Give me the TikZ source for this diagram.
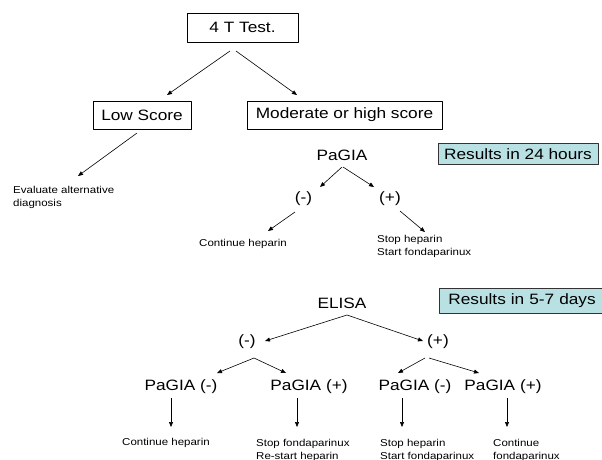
\documentclass[tikz,border=0pt]{standalone}
\usepackage{fontspec}
\setmainfont{Liberation Sans}
\newfontfamily\widesans{Liberation Sans}[FakeStretch=1.15]
\usepackage{xcolor}
\usetikzlibrary{arrows.meta}
\definecolor{resfill}{RGB}{185,225,228}

\begin{document}
\begin{tikzpicture}[x=1pt,y=-1pt,>={Triangle[length=5pt,width=4pt]},line join=round,
  big/.style={font=\widesans\fontsize{15}{18}\selectfont,inner sep=0pt},
  small/.style={font=\widesans\fontsize{10}{12.5}\selectfont,inner sep=0pt,align=left},
  box/.style={big,draw,line width=0.8pt},
  res/.style={big,draw=black!80,fill=resfill,line width=0.8pt},
  arr/.style={->,line width=0.6pt}]
  \useasboundingbox (0,0) rectangle (602,459);
  % top part
  \node[box,minimum width=111pt,minimum height=29pt] (test) at (242.5,27.5) {4 T Test.};
  \node[box,minimum width=98pt,minimum height=28pt] (low) at (142,115) {Low Score};
  \node[box,minimum width=195pt,minimum height=28pt] (mod) at (344.5,115) {Moderate or high score};
  \node[small,anchor=west] (eval) at (13,197.5) {Evaluate alternative\\diagnosis};
  \draw[arr] ([shift={(-12.5,23.5)}]test.center) -- ([shift={(25,-20)}]low.center);
  \draw[arr] ([shift={(-6.5,23.5)}]test.center) -- ([shift={(-47.5,-20)}]mod.center);
  \draw[arr] ([shift={(-5,18)}]low.center) -- ([shift={(65,-21.5)}]eval.west);
  % PaGIA
  \node[res,minimum width=160pt,minimum height=21pt] (res1) at (518,154) {Results in 24 hours};
  \node[big] (pagia) at (342,155) {PaGIA};
  \node[big] (neg1) at (303.5,199) {(-)};
  \node[big] (pos1) at (390,199) {(+)};
  \node[small] (cont1) at (243,244) {Continue heparin};
  \node[small,anchor=west] (stop1) at (377,246.5) {Stop heparin\\Start fondaparinux};
  \draw[arr] ([shift={(0,12)}]pagia.center) -- ([shift={(16.5,-12)}]neg1.center);
  \draw[arr] ([shift={(1,12)}]pagia.center) -- ([shift={(-16,-12)}]pos1.center);
  \draw[arr] ([shift={(-8.5,13)}]neg1.center) -- ([shift={(25,-13)}]cont1.center);
  \draw[arr] ([shift={(10,12)}]pos1.center) -- ([shift={(48,-14.5)}]stop1.west);
  % ELISA
  \node[res,anchor=west,minimum height=25pt,text width=200pt,inner xsep=9pt,align=left] (res2) at (439,301) {Results in 5-7 days};
  \node[big] (elisa) at (342,303) {ELISA};
  \node[big] (neg2) at (247,342) {(-)};
  \node[big] (pos2) at (438,342) {(+)};
  \node[big] (pa1) at (181,387) {PaGIA (-)};
  \node[big] (pa2) at (309,387) {PaGIA (+)};
  \node[big] (pa3) at (415,387) {PaGIA (-)};
  \node[big] (pa4) at (503,387) {PaGIA (+)};
  \node[small,anchor=west] (cont2) at (122,443) {Continue heparin};
  \node[small,anchor=west] (stop2) at (256,450.5) {Stop fondaparinux\\Re-start heparin};
  \node[small,anchor=west] (stop3) at (380,450.5) {Stop heparin\\Start fondaparinux};
  \node[small,anchor=west] (cont3) at (493,450.5) {Continue\\fondaparinux};
  \draw[arr] ([shift={(5,12)}]elisa.center) -- ([shift={(18,-1)}]neg2.center);
  \draw[arr] ([shift={(5,12)}]elisa.center) -- ([shift={(-15,-1)}]pos2.center);
  \draw[arr] ([shift={(7,16)}]neg2.center) -- ([shift={(36,-14)}]pa1.center);
  \draw[arr] ([shift={(7,16)}]neg2.center) -- ([shift={(-23,-14)}]pa2.center);
  \draw[arr] ([shift={(-13,16)}]pos2.center) -- ([shift={(-17,-14)}]pa3.center);
  \draw[arr] ([shift={(-9,16)}]pos2.center) -- ([shift={(-24,-14)}]pa4.center);
  \draw[arr] ([shift={(-10,11)}]pa1.center) -- ([shift={(49,-16)}]cont2.west);
  \draw[arr] ([shift={(-12,11)}]pa2.center) -- ([shift={(41,-23.5)}]stop2.west);
  \draw[arr] ([shift={(-13,11)}]pa3.center) -- ([shift={(22,-23.5)}]stop3.west);
  \draw[arr] ([shift={(4,11)}]pa4.center) -- ([shift={(14,-23.5)}]cont3.west);
\end{tikzpicture}
\end{document}
